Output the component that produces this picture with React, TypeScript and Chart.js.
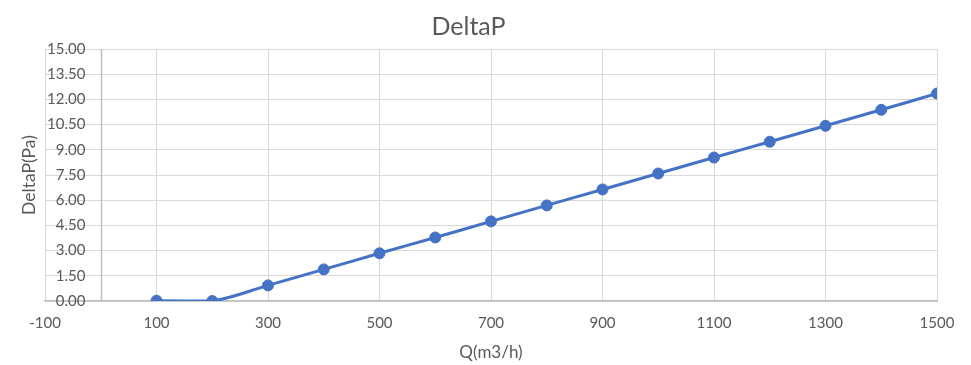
import React, { useEffect, useRef } from "react";
import { Chart, registerables } from "chart.js";

Chart.register(...registerables);

const chartTitle = "DeltaP";
const xAxisTitle = "Q(m3/h)";
const yAxisTitle = "DeltaP(Pa)";
const flowRates = [100, 200, 300, 400, 500, 600, 700, 800, 900, 1000, 1100, 1200, 1300, 1400, 1500];
const deltaP = [0.02, 0.0, 0.93, 1.88, 2.84, 3.78, 4.74, 5.69, 6.64, 7.59, 8.54, 9.48, 10.43, 11.38, 12.35];
const xTickValues = [-100, 100, 300, 500, 700, 900, 1100, 1300, 1500];
const yTickValues = [0, 1.5, 3, 4.5, 6, 7.5, 9, 10.5, 12, 13.5, 15];
const yAxisCrossAt = 0;

const FONT = "Lato, 'Open Sans', sans-serif";
const TEXT = "#595959";

const axisPlugin = {
  id: "axisPlugin",
  beforeDatasetsDraw(chart: any) {
    const { ctx, chartArea, scales } = chart;
    const x = Math.round(scales.x.getPixelForValue(yAxisCrossAt)) + 0.5;
    ctx.save();
    ctx.strokeStyle = "#bfbfbf";
    ctx.lineWidth = 1.5;
    ctx.beginPath();
    ctx.moveTo(x, chartArea.top);
    ctx.lineTo(x, chartArea.bottom);
    ctx.stroke();
    ctx.restore();
  },
  afterDraw(chart: any) {
    const { ctx, chartArea } = chart;
    ctx.save();
    ctx.fillStyle = TEXT;
    ctx.font = `17.5px ${FONT}`;
    ctx.textAlign = "center";
    ctx.textBaseline = "middle";
    ctx.translate(29, (chartArea.top + chartArea.bottom) / 2);
    ctx.rotate(-Math.PI / 2);
    ctx.fillText(yAxisTitle, 0, 0);
    ctx.restore();
  },
};

export default function App() {
  const ref = useRef<HTMLCanvasElement | null>(null);
  useEffect(() => {
    if (!ref.current) return;
    const chart = new Chart(ref.current, {
      type: "line",
      data: {
        datasets: [
          {
            label: chartTitle,
            data: flowRates.map((x, i) => ({ x, y: deltaP[i] })),
            borderColor: "#4472C4",
            backgroundColor: "#4472C4",
            borderWidth: 3,
            pointRadius: 5.5,
            pointBackgroundColor: "#4472C4",
            pointBorderColor: "#4472C4",
            pointBorderWidth: 1,
            tension: 0.35,
            fill: false,
          },
        ],
      },
      options: {
        animation: false,
        responsive: true,
        maintainAspectRatio: false,
        layout: { padding: { left: 0, right: 34, top: 0, bottom: 0 } },
        plugins: {
          legend: { display: false },
          tooltip: { enabled: false },
          title: {
            display: true,
            text: chartTitle,
            color: TEXT,
            font: { family: FONT, size: 25, weight: "normal" },
            padding: { top: 12, bottom: 7 },
          },
        },
        scales: {
          x: {
            type: "linear",
            position: "bottom",
            min: -100,
            max: 1500,
            afterBuildTicks: (scale: any) => {
              scale.ticks = xTickValues.map((v) => ({ value: v }));
            },
            afterFit: (scale: any) => {
              scale.height = 64;
            },
            grid: { color: "#d9d9d9", lineWidth: 1, drawTicks: false },
            border: { color: "#bfbfbf", width: 1.5 },
            ticks: {
              color: TEXT,
              font: { family: FONT, size: 15 },
              padding: 13,
              maxRotation: 0,
              autoSkip: false,
              callback: (v: any) => String(v),
            },
            title: {
              display: true,
              text: xAxisTitle,
              color: TEXT,
              font: { family: FONT, size: 17 },
              padding: { top: 0, bottom: 2 },
            },
          },
          y: {
            type: "linear",
            position: "left",
            min: 0,
            max: 15,
            afterBuildTicks: (scale: any) => {
              scale.ticks = yTickValues.map((v) => ({ value: v }));
            },
            afterFit: (scale: any) => {
              scale.width = 45;
            },
            grid: { color: "#d9d9d9", lineWidth: 1, drawTicks: false },
            border: { display: false },
            ticks: {
              color: TEXT,
              font: { family: FONT, size: 15 },
              mirror: true,
              crossAlign: "far",
              padding: 2,
              autoSkip: false,
              callback: (v: any) => Number(v).toFixed(2),
            },
          },
        },
      },
      plugins: [axisPlugin],
    } as any);
    return () => chart.destroy();
  }, []);
  return (
    <div style={{ position: "absolute", left: 0, top: 0, width: 971, height: 365, background: "#fff" }}>
      <canvas ref={ref} />
    </div>
  );
}
